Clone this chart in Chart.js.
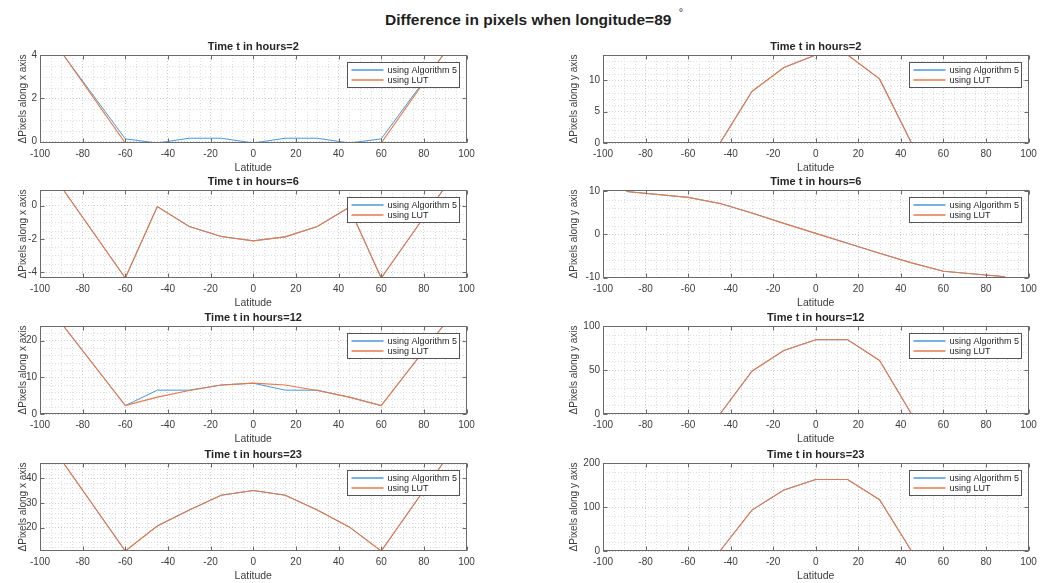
<!DOCTYPE html>
<html>
<head>
<meta charset="utf-8">
<script src="https://cdn.jsdelivr.net/npm/chart.js@4.4.1/dist/chart.umd.min.js"></script>
<style>
  html, body { margin: 0; padding: 0; background: #ffffff; }
  #fig { position: relative; width: 1050px; height: 583px; overflow: hidden; background: #ffffff;
         font-family: 'Liberation Sans', Arial, sans-serif; }
  #sup { position: absolute; left: 385px; top: 11px; font-weight: bold; font-size: 15.5px; color: #1f1f1f;
         white-space: nowrap; line-height: 18px; }
  #sup .deg { position: relative; top: -9px; font-size: 11px; font-weight: normal; margin-left: 3px; }
  canvas { position: absolute; }
</style>
</head>
<body>
<div id="fig">
  <div id="sup">Difference in pixels when longitude=89 <span class="deg">°</span></div>
</div>
<script>
// ---------------- data ----------------
const latitude = [-89, -60, -45, -30, -15, 0, 15, 30, 45, 60, 89];

// t = 2 h
const dxAlg2 = [4.0, 0.13, -0.06, 0.16, 0.16, -0.06, 0.16, 0.16, -0.06, 0.13, 4.0];
const dxLut2 = [4.0, -0.06, -0.06, -0.06, -0.06, -0.06, -0.06, -0.06, -0.06, -0.06, 4.0];
const dyAlg2 = [0, 0, 0, 8.2, 12, 14, 14, 10.2, 0, 0, 0];
const dyLut2 = [0, 0, 0, 8.2, 12, 14, 14, 10.2, 0, 0, 0];
// t = 6 h
const dxAlg6 = [0.94, -4.36, -0.06, -1.26, -1.86, -2.12, -1.88, -1.26, -0.1, -4.36, 0.94];
const dxLut6 = [0.94, -4.36, -0.06, -1.26, -1.86, -2.12, -1.88, -1.26, -0.1, -4.36, 0.94];
const dyAlg6 = [9.85, 8.5, 7.1, 4.9, 2.5, 0.2, -2.1, -4.4, -6.6, -8.55, -9.8];
const dyLut6 = [9.85, 8.5, 7.1, 4.9, 2.5, 0.2, -2.1, -4.4, -6.6, -8.55, -9.8];
// t = 12 h
const dxAlg12 = [24, 2.3, 6.5, 6.5, 7.9, 8.4, 6.5, 6.5, 4.6, 2.3, 24];
const dxLut12 = [24, 2.3, 4.6, 6.4, 7.9, 8.4, 7.9, 6.4, 4.6, 2.3, 24];
const dyAlg12 = [0, 0, 0, 48.7, 72.2, 84.4, 84.4, 60.8, 0, 0, 0];
const dyLut12 = [0, 0, 0, 48.7, 72.2, 84.4, 84.4, 60.8, 0, 0, 0];
// t = 23 h
const dxAlg23 = [46.3, 10.5, 20.7, 27.2, 33.2, 35.1, 33.2, 27.2, 20.3, 10.5, 46.3];
const dxLut23 = [46.3, 10.5, 20.7, 27.2, 33.2, 35.1, 33.2, 27.2, 20.3, 10.5, 46.3];
const dyAlg23 = [0, 0, 0, 93, 138.5, 162.5, 162.5, 116.5, 0, 0, 0];
const dyLut23 = [0, 0, 0, 93, 138.5, 162.5, 162.5, 116.5, 0, 0, 0];

// tick labels
const latTicks = [-100, -80, -60, -40, -20, 0, 20, 40, 60, 80, 100];
const ticksDx2 = [0, 2, 4];
const ticksDy2 = [0, 5, 10];
const ticksDx6 = [-4, -2, 0];
const ticksDy6 = [-10, 0, 10];
const ticksDx12 = [0, 10, 20];
const ticksDy12 = [0, 50, 100];
const ticksDx23 = [20, 30, 40];
const ticksDy23 = [0, 100, 200];

const seriesNames = ['using Algorithm 5', 'using LUT'];
const titles = ['Time t in hours=2', 'Time t in hours=6', 'Time t in hours=12', 'Time t in hours=23'];
const yLabels = ['\u0394Pixels along x axis', '\u0394Pixels along y axis'];

// ---------------- layout / style ----------------
const BLUE = '#4a98d8';
const RED = '#e47a4c';
const TXT = '#3c3c3c';
const FONT = "'Liberation Sans', Arial, sans-serif";
Chart.defaults.font.family = FONT;
Chart.defaults.color = TXT;

const ROW_TOPS = [55, 190, 326, 463];
const PLOT_H = 88;

const plots = [
  {row: 0, col: 0, alg: dxAlg2,  lut: dxLut2,  ymin: -0.06, ymax: 4,    yt: ticksDx2,  minor: 0.5},
  {row: 0, col: 1, alg: dyAlg2,  lut: dyLut2,  ymin: 0,     ymax: 14,   yt: ticksDy2,  minor: 1},
  {row: 1, col: 0, alg: dxAlg6,  lut: dxLut6,  ymin: -4.36, ymax: 0.94, yt: ticksDx6,  minor: 0.5},
  {row: 1, col: 1, alg: dyAlg6,  lut: dyLut6,  ymin: -10.1, ymax: 10.2, yt: ticksDy6,  minor: 2},
  {row: 2, col: 0, alg: dxAlg12, lut: dxLut12, ymin: 0,     ymax: 24,   yt: ticksDx12, minor: 2},
  {row: 2, col: 1, alg: dyAlg12, lut: dyLut12, ymin: 0,     ymax: 100,  yt: ticksDy12, minor: 10},
  {row: 3, col: 0, alg: dxAlg23, lut: dxLut23, ymin: 10.5,  ymax: 46.3, yt: ticksDx23, minor: 2},
  {row: 3, col: 1, alg: dyAlg23, lut: dyLut23, ymin: 0,     ymax: 200,  yt: ticksDy23, minor: 20}
];

// minor grid, frame and inward ticks (MATLAB look)
const framePlugin = {
  id: 'matlabFrame',
  beforeDatasetsDraw(chart, args, opts) {
    const {ctx, chartArea: a, scales} = chart;
    const x = scales.x, y = scales.y;
    ctx.save();
    ctx.beginPath(); ctx.rect(a.left, a.top, a.width, a.height); ctx.clip();
    ctx.strokeStyle = '#dedede'; ctx.lineWidth = 1; ctx.setLineDash([1, 2]);
    const xs = 5;
    for (let k = Math.ceil(x.min / xs); k * xs <= x.max; k++) {
      const v = k * xs; if (v % 20 === 0) continue;
      const px = Math.round(x.getPixelForValue(v)) + 0.5;
      ctx.beginPath(); ctx.moveTo(px, a.top); ctx.lineTo(px, a.bottom); ctx.stroke();
    }
    const ys = opts.minor;
    const major = opts.major;
    for (let k = Math.ceil(y.min / ys - 1e-9); k * ys <= y.max + 1e-9; k++) {
      const v = k * ys;
      if (major.some(m => Math.abs(m - v) < 1e-9)) continue;
      const py = Math.round(y.getPixelForValue(v)) + 0.5;
      ctx.beginPath(); ctx.moveTo(a.left, py); ctx.lineTo(a.right, py); ctx.stroke();
    }
    ctx.restore();
  },
  afterDatasetsDraw(chart) {
    const {ctx, chartArea: a, scales} = chart;
    const x = scales.x, y = scales.y;
    ctx.save();
    ctx.strokeStyle = '#6a6a6a'; ctx.lineWidth = 1; ctx.setLineDash([]);
    const L = Math.round(a.left) + 0.5, R = Math.round(a.right) - 0.5;
    const T = Math.round(a.top) + 0.5, B = Math.round(a.bottom) - 0.5;
    ctx.strokeRect(L, T, R - L, B - T);
    const tl = 4;
    x.ticks.forEach(t => {
      const px = Math.round(x.getPixelForValue(t.value)) + 0.5;
      ctx.beginPath(); ctx.moveTo(px, B); ctx.lineTo(px, B - tl); ctx.moveTo(px, T); ctx.lineTo(px, T + tl); ctx.stroke();
    });
    y.ticks.forEach(t => {
      const py = Math.round(y.getPixelForValue(t.value)) + 0.5;
      ctx.beginPath(); ctx.moveTo(L, py); ctx.lineTo(L + tl, py); ctx.moveTo(R, py); ctx.lineTo(R - tl, py); ctx.stroke();
    });
    ctx.restore();
  }
};

const legendPlugin = {
  id: 'matlabLegend',
  afterDraw(chart) {
    const {ctx, chartArea: a} = chart;
    const w = 112, h = 25;
    const bx = Math.round(a.right - 7.5 - w) + 0.5, by = Math.round(a.top + 6.5) + 0.5;
    ctx.save();
    ctx.setLineDash([]);
    ctx.fillStyle = '#ffffff';
    ctx.fillRect(bx, by, w, h);
    ctx.strokeStyle = '#555555'; ctx.lineWidth = 1;
    ctx.strokeRect(bx, by, w, h);
    ctx.font = '9px ' + FONT;
    ctx.textBaseline = 'middle';
    ctx.textAlign = 'left';
    chart.data.datasets.forEach((ds, i) => {
      const yy = Math.round(by + 7 + i * 10.6);
      ctx.strokeStyle = ds.borderColor;
      ctx.lineWidth = 1.5;
      ctx.beginPath(); ctx.moveTo(bx + 4, yy); ctx.lineTo(bx + 36, yy); ctx.stroke();
      ctx.fillStyle = '#262626';
      ctx.fillText(ds.label, bx + 40, yy + 0.5);
    });
    ctx.restore();
  }
};

const fig = document.getElementById('fig');

plots.forEach(p => {
  const colLeft = p.col === 0 ? 0 : 520;
  const colWidth = p.col === 0 ? 480 : 530;
  const plotLeft = p.col === 0 ? 40 : 603;
  const plotRight = p.col === 0 ? 466.5 : 1028.5;
  const plotTop = ROW_TOPS[p.row];
  const canvasTop = plotTop - 18;
  const H = 18 + PLOT_H + 32;
  const titleX = p.col === 0 ? 23.3 : 574;
  const padLeft = titleX - 6 - colLeft;
  const yAxisWidth = plotLeft - colLeft - padLeft;
  const padRight = colLeft + colWidth - plotRight;

  const cv = document.createElement('canvas');
  cv.width = colWidth; cv.height = H;
  cv.style.left = colLeft + 'px'; cv.style.top = canvasTop + 'px';
  cv.style.width = colWidth + 'px'; cv.style.height = H + 'px';
  fig.appendChild(cv);

  const pts = arr => latitude.map((lat, i) => ({x: lat, y: arr[i]}));

  new Chart(cv.getContext('2d'), {
    type: 'line',
    data: {
      datasets: [
        {label: seriesNames[0], data: pts(p.alg), borderColor: BLUE, backgroundColor: BLUE,
         borderWidth: 1, pointRadius: 0, tension: 0, fill: false, order: 1},
        {label: seriesNames[1], data: pts(p.lut), borderColor: RED, backgroundColor: RED,
         borderWidth: 1.15, pointRadius: 0, tension: 0, fill: false, order: 0}
      ]
    },
    options: {
      responsive: false,
      animation: false,
      events: [],
      layout: {padding: {left: padLeft, right: padRight, top: 3.8, bottom: 0}},
      plugins: {
        legend: {display: false},
        tooltip: {enabled: false},
        title: {display: true, text: titles[p.row], fullSize: false,
                font: {size: 11, weight: 'bold', family: FONT, lineHeight: 1.2},
                color: '#262626', padding: {top: 0, bottom: 1}},
        matlabFrame: {minor: p.minor, major: p.yt}
      },
      scales: {
        x: {
          type: 'linear', min: -100, max: 100,
          afterBuildTicks: s => { s.ticks = latTicks.map(v => ({value: v})); },
          afterFit: s => { s.height = 32; },
          ticks: {padding: 5, color: TXT, font: {size: 10}, autoSkip: false, maxRotation: 0},
          grid: {color: '#cfcfcf', drawTicks: false, lineWidth: 1},
          border: {display: false, dash: [1, 2]},
          title: {display: true, text: 'Latitude', color: TXT, font: {size: 10.5}, padding: {top: 0, bottom: 1}}
        },
        y: {
          type: 'linear', min: p.ymin, max: p.ymax,
          afterBuildTicks: s => { s.ticks = p.yt.map(v => ({value: v})); },
          afterFit: s => { s.width = yAxisWidth; },
          ticks: {padding: 3, color: TXT, font: {size: 10}, autoSkip: false},
          grid: {color: '#cfcfcf', drawTicks: false, lineWidth: 1},
          border: {display: false, dash: [1, 2]},
          title: {display: true, text: yLabels[p.col], color: TXT, font: {size: 10}, padding: 0}
        }
      }
    },
    plugins: [framePlugin, legendPlugin]
  });
});
</script>
</body>
</html>
